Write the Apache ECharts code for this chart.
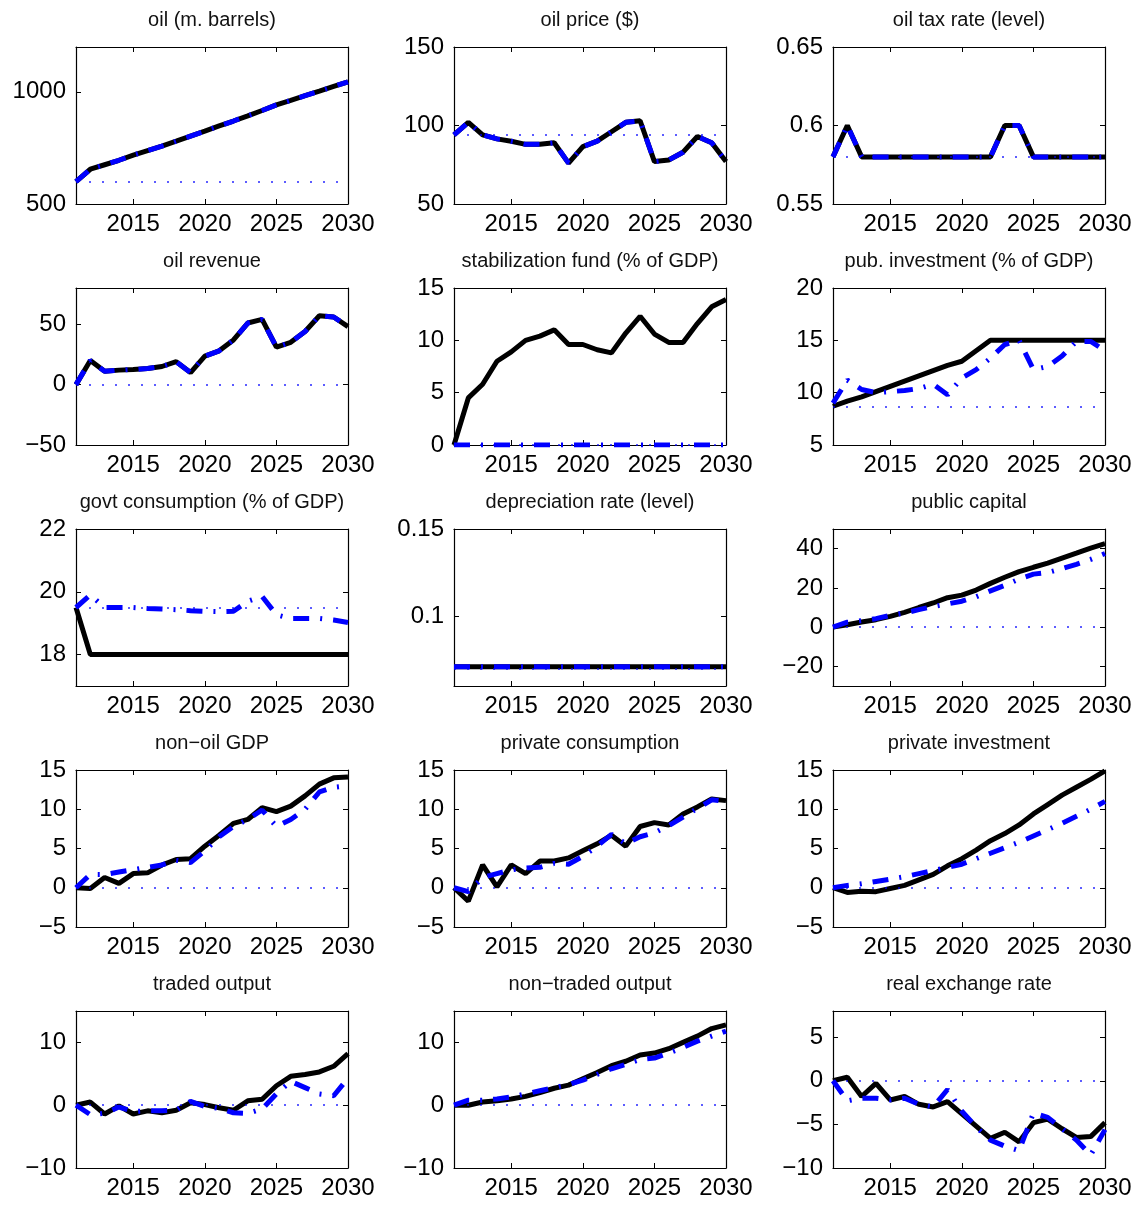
<!DOCTYPE html>
<html>
  <head>
    <meta charset="utf-8">
    <title>oil scenario panels</title>
    <script src="https://cdn.jsdelivr.net/npm/echarts@6.0.0/dist/echarts.min.js"></script>
    <style>html, body { margin: 0; background: #fff; }</style>
  </head>
  <body>
    <div id="main" style="width: 1142px; height: 1205px"></div>
    <script>
      var years = [2011, 2012, 2013, 2014, 2015, 2016, 2017, 2018, 2019, 2020,
                   2021, 2022, 2023, 2024, 2025, 2026, 2027, 2028, 2029, 2030];
      var xTicks = [2015, 2020, 2025, 2030];

      // row 1
      var oilQty = [600, 655, 675, 695, 718, 738, 758, 780, 803, 825, 848, 870, 893, 917, 942, 962, 983, 1003, 1024, 1045];
      var oilPrice = [94, 102, 94, 91.5, 90, 88, 88, 89, 76, 86.5, 90, 96, 102, 103, 77, 78, 83, 93, 89, 77];
      var oilTax = [0.58, 0.60, 0.58, 0.58, 0.58, 0.58, 0.58, 0.58, 0.58, 0.58, 0.58, 0.58, 0.60, 0.60, 0.58, 0.58, 0.58, 0.58, 0.58, 0.58];
      // row 2
      var oilRevenue = [0, 20, 11, 12, 12.5, 13.3, 15, 19, 10, 23.6, 28, 37, 51, 54, 31, 35, 44, 57, 56, 48];
      var fundSolid = [0, 4.5, 5.8, 8, 8.9, 10, 10.4, 11, 9.6, 9.6, 9.1, 8.8, 10.7, 12.3, 10.6, 9.8, 9.8, 11.6, 13.2, 13.9];
      var fundDash = [0, 0, 0, 0, 0, 0, 0, 0, 0, 0, 0, 0, 0, 0, 0, 0, 0, 0, 0, 0];
      var pubInvSolid = [8.7, 9.2, 9.6, 10.1, 10.6, 11.1, 11.6, 12.1, 12.6, 13.0, 14.0, 15, 15, 15, 15, 15, 15, 15, 15, 15];
      var pubInvDash = [9.0, 11.2, 10.3, 10.0, 10.1, 10.2, 10.4, 10.8, 9.8, 11.4, 12.2, 13.3, 14.6, 15.0, 12.2, 12.5, 13.5, 14.9, 14.9, 14.0];
      // row 3
      var govSolid = [19.5, 18, 18, 18, 18, 18, 18, 18, 18, 18, 18, 18, 18, 18, 18, 18, 18, 18, 18, 18];
      var govDash = [19.5, 19.9, 19.5, 19.5, 19.5, 19.47, 19.45, 19.43, 19.4, 19.38, 19.37, 19.38, 19.7, 19.85, 19.27, 19.15, 19.15, 19.15, 19.1, 19.02];
      var deprRate = [0.071, 0.071, 0.071, 0.071, 0.071, 0.071, 0.071, 0.071, 0.071, 0.071, 0.071, 0.071, 0.071, 0.071, 0.071, 0.071, 0.071, 0.071, 0.071, 0.071];
      var pubCapSolid = [0, 1.2, 2.6, 3.8, 5.5, 7.5, 10, 12.3, 15, 16.3, 18.9, 22.3, 25.4, 28.3, 30.5, 32.6, 35.2, 37.7, 40.3, 42.5];
      var pubCapDash = [0, 2.5, 3.3, 4.3, 6.0, 7.2, 8.9, 10.5, 11.8, 13.2, 15.5, 18.5, 21.3, 24.5, 27.0, 27.8, 29.8, 32.0, 34.5, 37.5];
      // row 4
      var nonOilSolid = [0, -0.1, 1.3, 0.55, 1.8, 1.9, 2.9, 3.6, 3.7, 5.3, 6.7, 8.2, 8.7, 10.2, 9.7, 10.4, 11.7, 13.2, 14, 14.1];
      var nonOilDash = [0, 1.7, 1.7, 2.0, 2.3, 2.6, 2.9, 3.5, 3.2, 4.7, 6.5, 7.8, 8.7, 9.9, 7.8, 8.7, 10, 12.2, 12.8, 13.0];
      var privConsSolid = [0, -1.7, 2.9, 0.1, 2.9, 1.8, 3.4, 3.4, 3.8, 4.7, 5.6, 6.7, 5.3, 7.8, 8.3, 8.0, 9.4, 10.3, 11.3, 11.1];
      var privConsDash = [0, -0.5, 1.3, 1.8, 2.3, 2.5, 2.6, 3.1, 3.0, 4.0, 5.3, 6.8, 5.6, 6.5, 7.0, 7.9, 9.0, 10.1, 11.2, 11.0];
      var privInvSolid = [0, -0.6, -0.45, -0.5, -0.1, 0.3, 1.0, 1.7, 2.8, 3.7, 4.8, 6.0, 6.9, 8.0, 9.4, 10.6, 11.8, 12.8, 13.8, 14.9];
      var privInvDash = [0, 0.3, 0.5, 0.8, 1.1, 1.4, 1.8, 2.2, 2.6, 3.0, 3.7, 4.4, 5.1, 5.8, 6.6, 7.4, 8.2, 9.1, 10.0, 11.0];
      // row 5
      var tradedSolid = [0, 0.5, -1.4, -0.1, -1.4, -0.9, -1.2, -0.8, 0.4, 0.1, -0.4, -0.8, 0.7, 0.95, 3.1, 4.6, 4.9, 5.3, 6.2, 8.2];
      var tradedDash = [0, -1.5, -1.3, -0.3, -1.0, -0.9, -0.9, -0.8, 0.6, -0.2, -0.5, -1.2, -1.3, -0.6, 1.8, 3.8, 2.8, 1.8, 1.5, 4.3];
      var nonTradedSolid = [0, 0, 0.5, 0.7, 1.0, 1.4, 2.0, 2.7, 3.2, 4.2, 5.2, 6.3, 7.0, 8.0, 8.3, 9.0, 10.0, 11.0, 12.2, 12.8];
      var nonTradedDash = [0, 0.8, 0.8, 1.0, 1.3, 1.8, 2.3, 2.8, 3.3, 4.0, 4.9, 5.8, 6.5, 7.3, 7.5, 8.3, 9.2, 10.2, 11.0, 11.8];
      var rerSolid = [0, 0.4, -1.8, -0.3, -2.2, -1.8, -2.7, -3.0, -2.4, -3.8, -5.2, -6.6, -5.9, -7.0, -4.8, -4.4, -5.5, -6.5, -6.4, -4.8];
      var rerDash = [0, -2.3, -2.0, -2.0, -2.2, -2.0, -2.7, -3.0, -1.0, -3.5, -5.3, -6.8, -7.5, -8.0, -3.7, -4.2, -5.5, -6.8, -8.5, -5.6];

      var titles = ['oil (m. barrels)', 'oil price ($)', 'oil tax rate (level)',
                    'oil revenue', 'stabilization fund (% of GDP)', 'pub. investment (% of GDP)',
                    'govt consumption (% of GDP)', 'depreciation rate (level)', 'public capital',
                    'non\u2212oil GDP', 'private consumption', 'private investment',
                    'traded output', 'non\u2212traded output', 'real exchange rate'];
      var solids = [oilQty, oilPrice, oilTax, oilRevenue, fundSolid, pubInvSolid, govSolid, deprRate,
                    pubCapSolid, nonOilSolid, privConsSolid, privInvSolid, tradedSolid, nonTradedSolid, rerSolid];
      var dashes = [oilQty, oilPrice, oilTax, oilRevenue, fundDash, pubInvDash, govDash, deprRate,
                    pubCapDash, nonOilDash, privConsDash, privInvDash, tradedDash, nonTradedDash, rerDash];
      var baselines = [600, 94, 0.58, 0, 0, 8.7, 19.5, 0.071, 0, 0, 0, 0, 0, 0, 0];
      var yMin = [500, 50, 0.55, -50, 0, 5, 17, 0.06, -30, -5, -5, -5, -10, -10, -10];
      var yMax = [1200, 150, 0.65, 80, 15, 20, 22, 0.15, 50, 15, 15, 15, 15, 15, 8];
      var yTicks = [[500, 1000], [50, 100, 150], [0.55, 0.6, 0.65], [-50, 0, 50], [0, 5, 10, 15],
                    [5, 10, 15, 20], [18, 20, 22], [0.1, 0.15], [-20, 0, 20, 40], [-5, 0, 5, 10, 15],
                    [-5, 0, 5, 10, 15], [-5, 0, 5, 10, 15], [-10, 0, 10], [-10, 0, 10], [-10, -5, 0, 5]];

      var colLeft = [76, 454, 833], rowTop = [47, 288, 529, 770, 1011];
      var W = 272, H = 157;
      var font = '"Liberation Sans", Arial, Helvetica, sans-serif';
      var boxLine = { show: true, onZero: false, lineStyle: { color: '#000', width: 1.2 } };
      var inTick = function (vals) {
        return { inside: true, length: 5, customValues: vals, lineStyle: { color: '#000' } };
      };

      function fmt(v) {
        return String(+v.toFixed(4)).replace('-', '\u2212');
      }
      function pairs(arr) {
        return years.map(function (y, k) { return [y, arr[k]]; });
      }

      var grid = [], xAxis = [], yAxis = [], series = [], title = [];
      titles.forEach(function (name, i) {
        var r = Math.floor(i / 3), c = i % 3;
        grid.push({ left: colLeft[c], top: rowTop[r], width: W, height: H });
        title.push({
          text: name, left: colLeft[c] + W / 2, top: rowTop[r] - 37, textAlign: 'center', padding: 0,
          textStyle: { fontFamily: font, fontSize: 20, fontWeight: 'normal', color: '#111' }
        });
        // bottom + top x axes make the box
        xAxis.push({
          type: 'value', gridIndex: i, min: 2011, max: 2030, position: 'bottom',
          axisLine: boxLine, splitLine: { show: false }, axisTick: inTick(xTicks),
          axisLabel: { customValues: xTicks, margin: 8, formatter: function (v) { return String(v); },
                       fontFamily: font, fontSize: 24, color: '#000' }
        });
        xAxis.push({
          type: 'value', gridIndex: i, min: 2011, max: 2030, position: 'top',
          axisLine: boxLine, splitLine: { show: false }, axisTick: inTick(xTicks),
          axisLabel: { show: false }
        });
        yAxis.push({
          type: 'value', gridIndex: i, min: yMin[i], max: yMax[i], position: 'left',
          axisLine: boxLine, splitLine: { show: false }, axisTick: inTick(yTicks[i]),
          axisLabel: { customValues: yTicks[i], margin: 10, formatter: fmt, fontFamily: font, fontSize: 24, color: '#000' }
        });
        yAxis.push({
          type: 'value', gridIndex: i, min: yMin[i], max: yMax[i], position: 'right',
          axisLine: boxLine, splitLine: { show: false }, axisTick: inTick(yTicks[i]),
          axisLabel: { show: false }
        });
        series.push({
          type: 'line', xAxisIndex: 2 * i, yAxisIndex: 2 * i, data: pairs(solids[i]),
          symbol: 'none', z: 3, clip: true,
          lineStyle: { color: '#000', width: 5 },
          markLine: {
            silent: true, symbol: ['none', 'none'], label: { show: false },
            lineStyle: { color: '#0000ff', width: 1.5, type: [2, 11], opacity: 0.85 },
            data: [{ yAxis: baselines[i] }]
          }
        });
        series.push({
          type: 'line', xAxisIndex: 2 * i, yAxisIndex: 2 * i, data: pairs(dashes[i]),
          symbol: 'none', z: 4, clip: true,
          lineStyle: { color: '#0000ff', width: 5, type: [16, 11, 2, 11] }
        });
      });

      var myChart = echarts.init(document.getElementById('main'));
      myChart.setOption({
        animation: false,
        title: title, grid: grid, xAxis: xAxis, yAxis: yAxis, series: series
      });
    </script>
  </body>
</html>
